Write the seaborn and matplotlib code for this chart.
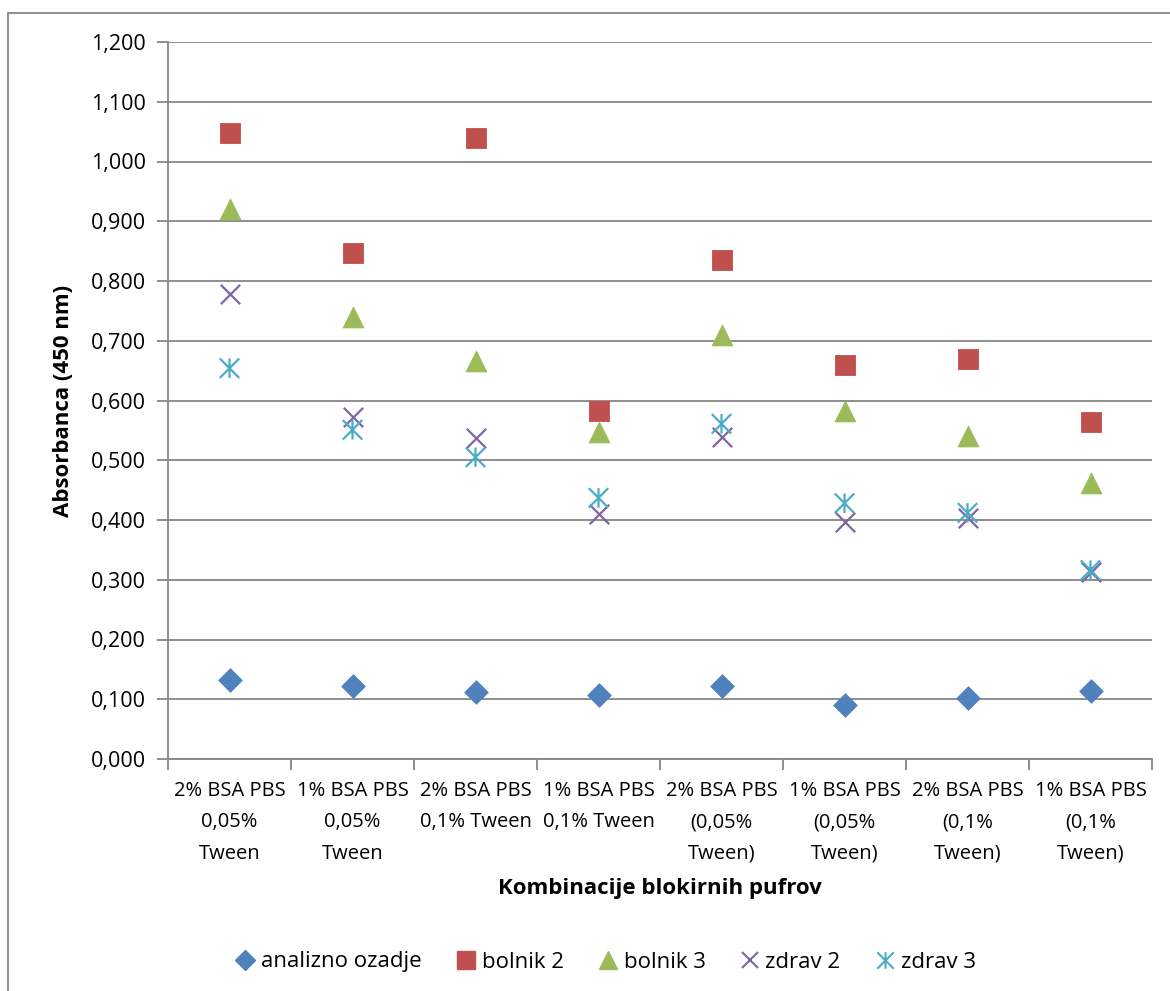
import numpy as np
import pandas as pd
import matplotlib
matplotlib.use("Agg")
import matplotlib.pyplot as plt
from matplotlib.path import Path
from matplotlib.lines import Line2D
import seaborn as sns

categories = [
    "2% BSA PBS\n0,05%\nTween",
    "1% BSA PBS\n0,05%\nTween",
    "2% BSA PBS\n0,1% Tween",
    "1% BSA PBS\n0,1% Tween",
    "2% BSA PBS\n(0,05%\nTween)",
    "1% BSA PBS\n(0,05%\nTween)",
    "2% BSA PBS\n(0,1%\nTween)",
    "1% BSA PBS\n(0,1%\nTween)",
]

analizno_ozadje = [0.132, 0.122, 0.112, 0.107, 0.122, 0.090, 0.102, 0.114]
bolnik_2 = [1.047, 0.847, 1.039, 0.582, 0.835, 0.659, 0.669, 0.564]
bolnik_3 = [0.920, 0.740, 0.666, 0.547, 0.710, 0.582, 0.541, 0.462]
zdrav_2 = [0.778, 0.572, 0.537, 0.410, 0.539, 0.397, 0.403, 0.313]
zdrav_3 = [0.654, 0.551, 0.505, 0.437, 0.561, 0.428, 0.412, 0.316]

series_names = ["analizno ozadje", "bolnik 2", "bolnik 3", "zdrav 2", "zdrav 3"]
series_values = [analizno_ozadje, bolnik_2, bolnik_3, zdrav_2, zdrav_3]

y_ticks = [0.0, 0.1, 0.2, 0.3, 0.4, 0.5, 0.6, 0.7, 0.8, 0.9, 1.0, 1.1, 1.2]

# Asterisk marker: an "x" with a vertical stroke through it
star_path = Path(
    [(-1, -1), (1, 1), (-1, 1), (1, -1), (0, -1), (0, 1)],
    [Path.MOVETO, Path.LINETO, Path.MOVETO, Path.LINETO, Path.MOVETO, Path.LINETO],
)

styles = {
    "analizno ozadje": dict(marker="D", color="#4F81BD", size=12, kind="filled"),
    "bolnik 2": dict(marker="s", color="#C0504D", size=14.5, kind="filled"),
    "bolnik 3": dict(marker="^", color="#9BBB59", size=15, kind="filled"),
    "zdrav 2": dict(marker="x", color="#8064A2", size=14, kind="line"),
    "zdrav 3": dict(marker=star_path, color="#4BACC6", size=14, kind="path"),
}

sns.set_theme(style="white")
plt.rcParams["font.family"] = ["Open Sans", "DejaVu Sans"]

fig = plt.figure(figsize=(11.7, 9.91), dpi=100)
ax = fig.add_axes([168 / 1170, 1 - 759 / 991, (1152 - 168) / 1170, (759 - 42) / 991])

grid_col = "#868686"

for name, vals in zip(series_names, series_values):
    st = styles[name]
    df = pd.DataFrame({"kategorija": categories, "vrednost": vals})
    common = dict(data=df, x="kategorija", y="vrednost", ax=ax,
                  marker=st["marker"], s=st["size"] ** 2, zorder=3, legend=False)
    if st["kind"] == "filled":
        sns.scatterplot(**common, color=st["color"], edgecolor=st["color"],
                        linewidth=0.6)
    elif st["kind"] == "line":
        sns.scatterplot(**common, color=st["color"], linewidth=1.6)
    else:
        sns.scatterplot(**common, color=st["color"], edgecolor=st["color"],
                        facecolor="none", linewidth=1.6)

ax.set_xlim(-0.5, len(categories) - 0.5)
ax.set_ylim(0, 1.2)
ax.set_yticks(y_ticks)
ax.set_yticklabels([f"{v:.3f}".replace(".", ",") for v in y_ticks], fontsize=15.5)
ax.set_xticks(range(len(categories)))
ax.set_xticklabels(categories, fontsize=14.5, linespacing=1.75)
ax.set_xticks(np.arange(-0.5, len(categories), 1.0), minor=True)

ax.yaxis.grid(True, color=grid_col, linewidth=1.3)
ax.set_axisbelow(True)
for s in ["top", "right"]:
    ax.spines[s].set_visible(False)
for s in ["left", "bottom"]:
    ax.spines[s].set_color(grid_col)
    ax.spines[s].set_linewidth(1.3)

ax.tick_params(axis="y", which="major", direction="out", length=8, width=1.3,
               color=grid_col, left=True, pad=8, labelcolor="black")
ax.tick_params(axis="x", which="major", length=0, pad=16, labelcolor="black")
ax.tick_params(axis="x", which="minor", direction="out", length=8, width=1.3,
               color=grid_col, bottom=True)

ax.set_xlabel("Kombinacije blokirnih pufrov", fontsize=16, fontweight="bold",
              labelpad=10, color="black")
ax.set_ylabel("Absorbanca (450 nm)", fontsize=16, fontweight="bold", labelpad=12,
              color="black")

handles = []
for name in series_names:
    st = styles[name]
    if st["kind"] == "filled":
        h = Line2D([], [], linestyle="none", marker=st["marker"],
                   markersize=st["size"] * 0.85, color=st["color"])
    else:
        h = Line2D([], [], linestyle="none", marker=st["marker"],
                   markersize=st["size"] * 0.85, color=st["color"],
                   markeredgewidth=1.5, markerfacecolor="none")
    handles.append(h)

fig.legend(handles, series_names, loc="center", bbox_to_anchor=(0.518, 1 - 962 / 991),
           ncol=5, frameon=False, fontsize=16, handlelength=0.8,
           handletextpad=0.3, columnspacing=1.6, labelcolor="black")

# Chart-area frame: visible left and top edges
fig.add_artist(Line2D([8 / 1170, 8 / 1170], [0, 1 - 13 / 991],
                      transform=fig.transFigure, color=grid_col, linewidth=1.3))
fig.add_artist(Line2D([8 / 1170, 1], [1 - 13 / 991, 1 - 13 / 991],
                      transform=fig.transFigure, color=grid_col, linewidth=1.3))

fig.savefig("out.png", dpi=100, facecolor="white")
